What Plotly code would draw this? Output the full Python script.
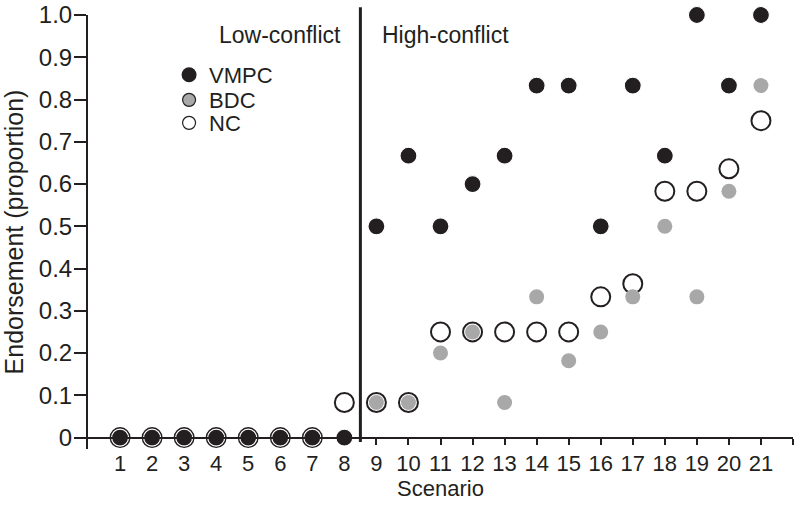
import plotly.graph_objects as go

scenarios = list(range(1, 22))
vmpc = [0, 0, 0, 0, 0, 0, 0, 0, 0.5, 0.667, 0.5, 0.6, 0.667, 0.833, 0.833, 0.5, 0.833, 0.667, 1.0, 0.833, 1.0]
bdc = [0, 0, 0, 0, 0, 0, 0, 0, 0.083, 0.083, 0.2, 0.25, 0.083, 0.333, 0.182, 0.25, 0.333, 0.5, 0.333, 0.583, 0.833]
nc = [0, 0, 0, 0, 0, 0, 0, 0.083, 0.083, 0.083, 0.25, 0.25, 0.25, 0.25, 0.25, 0.333, 0.364, 0.583, 0.583, 0.636, 0.75]

y_ticks = [0, 0.1, 0.2, 0.3, 0.4, 0.5, 0.6, 0.7, 0.8, 0.9, 1.0]
y_labels = ['0', '0.1', '0.2', '0.3', '0.4', '0.5', '0.6', '0.7', '0.8', '0.9', '1.0']
x_ticks = list(range(1, 23))
x_labels = [str(i) for i in range(1, 22)] + ['']

FONT = 'Liberation Sans, Arial, sans-serif'
INK = '#231f20'
GREY = '#a8a8a8'
X_MAX = 22
Y_MIN = -0.027
DIVIDER = 8.5  # between scenario 8 (last low-conflict) and 9

fig = go.Figure()

# order matters: NC under BDC under VMPC
fig.add_trace(go.Scatter(x=scenarios, y=nc, mode='markers', showlegend=False, cliponaxis=False,
                         marker=dict(size=19, color='white', line=dict(color=INK, width=2))))
fig.add_trace(go.Scatter(x=scenarios, y=bdc, mode='markers', showlegend=False, cliponaxis=False,
                         marker=dict(size=15, color=GREY, line=dict(width=0))))
fig.add_trace(go.Scatter(x=scenarios, y=vmpc, mode='markers', showlegend=False, cliponaxis=False,
                         marker=dict(size=17, color=INK, line=dict(color='white', width=1.2))))

# legend entries, one legend per row so the rows sit where they do in the original
fig.add_trace(go.Scatter(x=[None], y=[None], mode='markers', name='VMPC', legend='legend',
                         marker=dict(size=15, color=INK, line=dict(width=0))))
fig.add_trace(go.Scatter(x=[None], y=[None], mode='markers', name='BDC', legend='legend2',
                         marker=dict(size=13, color=GREY, line=dict(color=INK, width=1.2))))
fig.add_trace(go.Scatter(x=[None], y=[None], mode='markers', name='NC', legend='legend3',
                         marker=dict(size=13, color='white', line=dict(color=INK, width=1.2))))

# divider between low and high conflict (paper refs so it can poke out past the axes)
fig.add_shape(type='line', xref='paper', yref='paper', x0=DIVIDER / X_MAX, x1=DIVIDER / X_MAX,
              y0=0.016, y1=1.018, line=dict(color=INK, width=3))

fig.add_annotation(x=DIVIDER, y=0.953, xref='x', yref='y', text='Low-conflict', showarrow=False,
                   xanchor='right', xshift=-17, font=dict(size=23, color=INK, family=FONT))
fig.add_annotation(x=DIVIDER, y=0.953, xref='x', yref='y', text='High-conflict', showarrow=False,
                   xanchor='left', xshift=20, font=dict(size=23, color=INK, family=FONT))

leg = dict(x=0.115, xanchor='left', yanchor='middle', bgcolor='rgba(0,0,0,0)',
           font=dict(size=22, family=FONT, color=INK), itemwidth=30)

fig.update_layout(
    width=800, height=505,
    margin=dict(l=88, r=7, t=15, b=56),
    plot_bgcolor='white', paper_bgcolor='white',
    font=dict(family=FONT, size=22, color=INK),
    legend=dict(leg, y=0.862),
    legend2=dict(leg, y=0.804),
    legend3=dict(leg, y=0.751),
)

fig.update_xaxes(range=[0, X_MAX], tickvals=x_ticks, ticktext=x_labels, ticks='outside', ticklen=6,
                 tickwidth=2, tickcolor=INK, showline=True, linecolor=INK, linewidth=2,
                 showgrid=False, zeroline=False, anchor='free', position=-Y_MIN / (1 - Y_MIN),
                 ticklabelstandoff=0, automargin=False,
                 title=dict(text='Scenario', standoff=5, font=dict(size=22)),
                 tickfont=dict(size=22))
fig.update_yaxes(range=[Y_MIN, 1.0], tickvals=y_ticks, ticktext=y_labels, ticks='outside', ticklen=12,
                 tickwidth=2, tickcolor=INK, showline=True, linecolor=INK, linewidth=2,
                 showgrid=False, zeroline=False, automargin='left', ticklabelstandoff=-3,
                 ticklabeloverflow='allow',
                 title=dict(text='Endorsement (proportion)', standoff=10, font=dict(size=25)),
                 tickfont=dict(size=24))

# drop the default 8px page margin so the 800x505 figure fills the window
fig.write_html('out.html', config={'displayModeBar': False},
               post_script="document.body.style.margin='0';")
